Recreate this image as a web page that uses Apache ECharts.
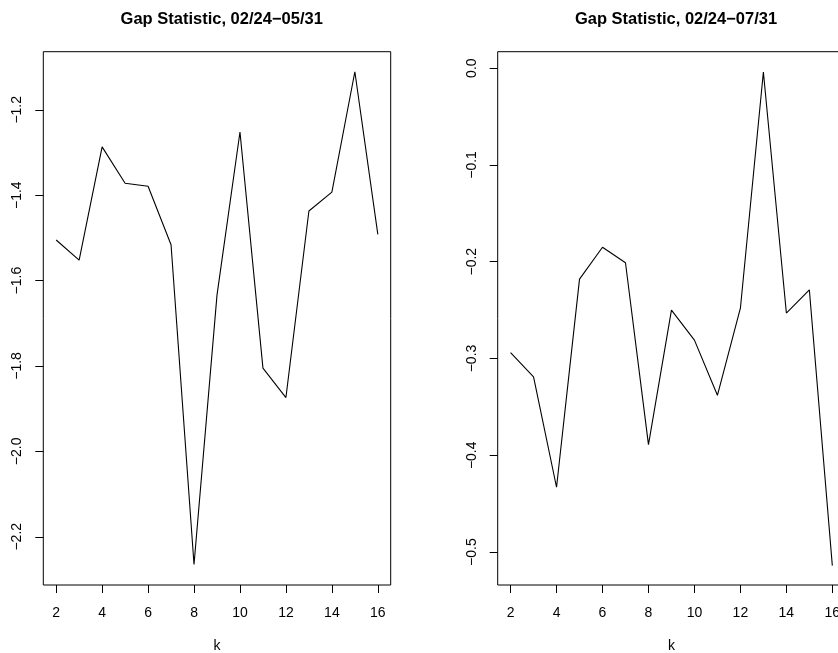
<!DOCTYPE html>
<html>
<head>
<meta charset="utf-8">
<script src="https://cdn.jsdelivr.net/npm/echarts@6/dist/echarts.min.js"></script>
<style>
  html, body { margin: 0; padding: 0; background: #fff; }
  #chart { width: 838px; height: 653px; }
</style>
</head>
<body>
<div id="chart"></div>
<script>
// number of clusters
const kValues = [2, 3, 4, 5, 6, 7, 8, 9, 10, 11, 12, 13, 14, 15, 16]
// gap statistic, 02/24-05/31
const gapMay = [-1.505, -1.552, -1.287, -1.372, -1.379, -1.516, -2.265, -1.634, -1.252, -1.805, -1.874, -1.437, -1.393, -1.111, -1.492]
// gap statistic, 02/24-07/31
const gapJul = [-0.294, -0.319, -0.433, -0.218, -0.185, -0.201, -0.389, -0.250, -0.281, -0.338, -0.248, -0.004, -0.253, -0.229, -0.514]

const xTicks = [2, 4, 6, 8, 10, 12, 14, 16]
const yTicksMay = [-2.2, -2.0, -1.8, -1.6, -1.4, -1.2]
const yTicksJul = [-0.5, -0.4, -0.3, -0.2, -0.1, 0.0]

const titles = ['Gap Statistic, 02/24\u221205/31', 'Gap Statistic, 02/24\u221207/31']

const FONT = '"Liberation Sans", Arial, Helvetica, sans-serif'

// R-style minus sign
function fmt(v) {
  return v.toFixed(1).replace('-', '\u2212')
}

function toPairs(ys) {
  return kValues.map((k, i) => [k, ys[i]])
}

function xAxisOf(gridIndex) {
  return {
    type: 'value',
    gridIndex: gridIndex,
    min: 1.44,
    max: 16.56,
    name: 'k',
    nameLocation: 'middle',
    nameGap: 54,
    nameTextStyle: { color: '#000', fontSize: 14, fontFamily: FONT },
    axisLine: { show: false, onZero: false },
    splitLine: { show: false },
    axisTick: {
      show: true,
      inside: false,
      length: 8,
      customValues: xTicks,
      lineStyle: { color: '#000', width: 1 }
    },
    axisLabel: {
      color: '#000',
      fontSize: 14,
      fontFamily: FONT,
      margin: 21,
      customValues: xTicks
    }
  }
}

function yAxisOf(gridIndex, min, max, ticks) {
  return {
    type: 'value',
    gridIndex: gridIndex,
    min: min,
    max: max,
    axisLine: { show: false, onZero: false },
    splitLine: { show: false },
    axisTick: {
      show: true,
      inside: false,
      length: 8,
      customValues: ticks,
      lineStyle: { color: '#000', width: 1 }
    },
    axisLabel: {
      color: '#000',
      fontSize: 14,
      fontFamily: FONT,
      rotate: 90,
      margin: 19,
      customValues: ticks,
      formatter: fmt
    }
  }
}

const chart = echarts.init(document.getElementById('chart'), null, { renderer: 'canvas' })

const option = {
  backgroundColor: '#fff',
  animation: false,
  title: [
    {
      text: titles[0],
      left: 216.7,
      top: 6,
      textAlign: 'center',
      textStyle: { color: '#000', fontSize: 16.5, fontWeight: 'bold', fontFamily: FONT }
    },
    {
      text: titles[1],
      left: 671,
      top: 6,
      textAlign: 'center',
      textStyle: { color: '#000', fontSize: 16.5, fontWeight: 'bold', fontFamily: FONT }
    }
  ],
  grid: [
    { left: 43.3, top: 51.7, width: 347.4, height: 533.3, outerBoundsMode: 'none', show: true, borderColor: '#000', borderWidth: 1, backgroundColor: 'transparent' },
    { left: 497.7, top: 51.7, width: 347.5, height: 533.3, outerBoundsMode: 'none', show: true, borderColor: '#000', borderWidth: 1, backgroundColor: 'transparent' }
  ],
  xAxis: [xAxisOf(0), xAxisOf(1)],
  yAxis: [
    yAxisOf(0, -2.313, -1.064, yTicksMay),
    yAxisOf(1, -0.534, 0.017, yTicksJul)
  ],
  series: [
    {
      type: 'line',
      xAxisIndex: 0,
      yAxisIndex: 0,
      data: toPairs(gapMay),
      showSymbol: false,
      symbol: 'none',
      lineStyle: { color: '#000', width: 1.1 }
    },
    {
      type: 'line',
      xAxisIndex: 1,
      yAxisIndex: 1,
      data: toPairs(gapJul),
      showSymbol: false,
      symbol: 'none',
      lineStyle: { color: '#000', width: 1.1 }
    }
  ]
}

chart.setOption(option)
</script>
</body>
</html>
